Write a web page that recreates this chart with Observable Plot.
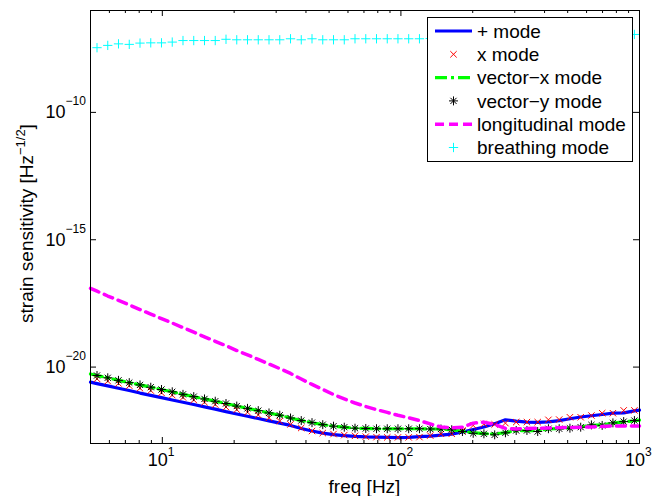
<!DOCTYPE html>
<html>
<head>
<meta charset="utf-8">
<script src="https://cdn.jsdelivr.net/npm/d3@7"></script>
<script src="https://cdn.jsdelivr.net/npm/@observablehq/plot@0.6"></script>
<style>
  body { margin: 0; background: #fff; }
  svg { font-family: "Liberation Sans", Arial, Helvetica, sans-serif; }
</style>
</head>
<body>
<div id="chart"></div>
<script>
// ---- data (strain values stored as log10) ----
const freq = [5.324, 5.906, 6.551, 7.268, 8.062, 8.944, 9.920, 11.005, 12.208, 13.543,
  15.024, 16.666, 18.489, 20.511, 22.754, 25.24, 28.00, 31.06, 34.46, 38.22,
  42.40, 47.04, 52.18, 57.89, 64.21, 71.24, 79.02, 87.66, 97.19, 107.8,
  119.6, 132.7, 147.2, 163.3, 181.1, 200.9, 222.8, 247.2, 274.2, 304.2,
  337.5, 374.4, 415.3, 460.7, 511.0, 566.9, 628.8, 697.6, 773.8, 858.4, 952.1];
const freqMin = 5, freqMax = 1000;

// lines: one value at freqMin, one per freq, one at freqMax
const plusLog = [-20.59, -20.65, -20.74, -20.83, -20.92, -21.02, -21.11, -21.20, -21.29, -21.38,
  -21.47, -21.56, -21.65, -21.75, -21.84, -21.93, -22.02, -22.11, -22.20, -22.29,
  -22.41, -22.51, -22.59, -22.65, -22.69, -22.72, -22.74, -22.75, -22.76, -22.77,
  -22.76, -22.73, -22.71, -22.67, -22.63, -22.55, -22.45, -22.35, -22.22, -22.07,
  -22.12, -22.16, -22.17, -22.15, -22.10, -22.03, -21.96, -21.91, -21.86, -21.81,
  -21.80, -21.72, -21.69];
const vecXLog = [-20.27, -20.33, -20.42, -20.52, -20.61, -20.70, -20.79, -20.88, -20.97, -21.07,
  -21.16, -21.25, -21.34, -21.43, -21.53, -21.62, -21.71, -21.80, -21.89, -22.00,
  -22.10, -22.18, -22.26, -22.32, -22.36, -22.40, -22.41, -22.42, -22.42, -22.42,
  -22.42, -22.42, -22.43, -22.43, -22.46, -22.52, -22.58, -22.61, -22.63, -22.57,
  -22.50, -22.50, -22.50, -22.43, -22.41, -22.39, -22.35, -22.29, -22.27, -22.20,
  -22.15, -22.11, -22.08];
const longLog = [-16.91, -17.02, -17.21, -17.38, -17.56, -17.74, -17.92, -18.10, -18.27, -18.45,
  -18.63, -18.81, -18.99, -19.16, -19.35, -19.52, -19.70, -19.88, -20.06, -20.25,
  -20.47, -20.68, -20.88, -21.08, -21.25, -21.41, -21.55, -21.67, -21.78, -21.89,
  -21.99, -22.10, -22.23, -22.35, -22.39, -22.36, -22.20, -22.16, -22.25, -22.41,
  -22.43, -22.41, -22.40, -22.39, -22.38, -22.37, -22.36, -22.35, -22.33, -22.31,
  -22.31, -22.31, -22.31];

// markers: one value per freq
const crossLog = [-20.46, -20.55, -20.64, -20.73, -20.83, -20.92, -21.01, -21.10, -21.19, -21.29,
  -21.38, -21.47, -21.57, -21.67, -21.77, -21.88, -21.99, -22.12, -22.25, -22.39,
  -22.51, -22.59, -22.63, -22.67, -22.70, -22.73, -22.75, -22.76, -22.76, -22.76,
  -22.75, -22.69, -22.62, -22.62, -22.49, -22.29, -22.23, -22.25, -22.20, -22.16,
  -22.16, -22.16, -22.07, -22.06, -21.97, -21.97, -21.90, -21.81, -21.81, -21.70,
  -21.70];
const vecYLog = [-20.33, -20.42, -20.52, -20.61, -20.70, -20.79, -20.88, -20.97, -21.07, -21.16,
  -21.25, -21.34, -21.43, -21.53, -21.62, -21.71, -21.80, -21.89, -22.00, -22.10,
  -22.18, -22.26, -22.32, -22.36, -22.40, -22.41, -22.42, -22.42, -22.42, -22.42,
  -22.42, -22.43, -22.43, -22.46, -22.53, -22.60, -22.62, -22.66, -22.58, -22.49,
  -22.49, -22.53, -22.42, -22.42, -22.40, -22.36, -22.27, -22.29, -22.19, -22.14,
  -22.10];
const breathLog = [-7.46, -7.37, -7.31, -7.33, -7.28, -7.27, -7.27, -7.24, -7.18, -7.18,
  -7.18, -7.18, -7.13, -7.15, -7.15, -7.15, -7.15, -7.15, -7.11, -7.15,
  -7.11, -7.15, -7.15, -7.15, -7.11, -7.11, -7.11, -7.11, -7.11, -7.11,
  -7.11, -7.10, -7.09, -7.08, -7.08, -7.07, -7.06, -7.06, -7.05, -7.04,
  -7.04, -7.03, -7.02, -7.01, -7.00, -7.00, -6.99, -6.98, -6.97, -6.96,
  -6.94];

const xTicks = [10, 100, 1000];
const xTickExp = ["1", "2", "3"];
const xMinorTicks = [6, 7, 8, 9, 20, 30, 40, 50, 60, 70, 80, 90, 200, 300, 400, 500, 600, 700, 800, 900];
const yTicks = [1e-20, 1e-15, 1e-10];
const yTickExp = ["\u221220", "\u221215", "\u221210"];
const legendLabels = ["+ mode", "x mode", "vector\u2212x mode", "vector\u2212y mode", "longitudinal mode", "breathing mode"];

// ---- build tables ----
const lineFreq = [freqMin, ...freq, freqMax];
const table = (fs, logs) => fs.map((f, i) => ({f, v: Math.pow(10, logs[i])}));
const plusData = table(lineFreq, plusLog);
const vecXData = table(lineFreq, vecXLog);
const longData = table(lineFreq, longLog);
const crossData = table(freq, crossLog);
const vecYData = table(freq, vecYLog);
const breathData = table(freq, breathLog);

const W = 666, H = 496, mL = 90, mR = 27, mT = 10, mB = 53;
const plotW = W - mL - mR, plotH = H - mT - mB;
const FONT = '"Liberation Sans", Arial, Helvetica, sans-serif';

const chart = Plot.plot({
  width: W, height: H,
  marginLeft: mL, marginRight: mR, marginTop: mT, marginBottom: mB,
  style: {background: "white", fontFamily: FONT},
  x: {type: "log", domain: [freqMin, freqMax], axis: null},
  y: {type: "log", domain: [1e-23, 1e-6], axis: null},
  marks: [
    Plot.line(plusData, {x: "f", y: "v", stroke: "#0000ff", strokeWidth: 3.2}),
    Plot.dot(crossData, {x: "f", y: "v", symbol: "times", r: 3.0, stroke: "#ff0000", strokeWidth: 1}),
    Plot.line(vecXData, {x: "f", y: "v", stroke: "#00ff00", strokeWidth: 3.2, strokeDasharray: "12,4,3,4"}),
    Plot.dot(vecYData, {x: "f", y: "v", symbol: "plus", r: 3.0, stroke: "#000000", strokeWidth: 1}),
    Plot.dot(vecYData, {x: "f", y: "v", symbol: "times", r: 2.9, stroke: "#000000", strokeWidth: 1}),
    Plot.line(longData, {x: "f", y: "v", stroke: "#ff00ff", strokeWidth: 3.5, strokeDasharray: "9,6"}),
    Plot.dot(breathData, {x: "f", y: "v", symbol: "plus", r: 3.1, stroke: "#00ffff", strokeWidth: 1}),
    // inward ticks (bottom/top, left/right)
    Plot.tickX(xMinorTicks, {x: d => d, insetTop: plotH - 3, stroke: "black"}),
    Plot.tickX(xMinorTicks, {x: d => d, insetBottom: plotH - 3, stroke: "black"}),
    Plot.tickX(xTicks, {x: d => d, insetTop: plotH - 6, stroke: "black"}),
    Plot.tickX(xTicks, {x: d => d, insetBottom: plotH - 6, stroke: "black"}),
    Plot.tickY(yTicks, {y: d => d, insetRight: plotW - 6, stroke: "black"}),
    Plot.tickY(yTicks, {y: d => d, insetLeft: plotW - 6, stroke: "black"}),
    Plot.frame({stroke: "black", strokeWidth: 1}),
    // tick labels: 10 with superscript exponent
    Plot.text(xTicks, {x: d => d, frameAnchor: "bottom", text: () => "10", textAnchor: "end", dx: 5.5, dy: 22, fontSize: 18, fill: "black", fontFamily: FONT}),
    Plot.text(xTicks, {x: d => d, frameAnchor: "bottom", text: (d, i) => xTickExp[i], textAnchor: "start", dx: 5.5, dy: 12, fontSize: 12, fill: "black", fontFamily: FONT}),
    Plot.text(yTicks, {y: d => d, frameAnchor: "left", text: () => "10", textAnchor: "end", dx: -25, dy: 0, fontSize: 18, fill: "black", fontFamily: FONT}),
    Plot.text(yTicks, {y: d => d, frameAnchor: "left", text: (d, i) => yTickExp[i], textAnchor: "start", dx: -25, dy: -11, fontSize: 12, fill: "black", fontFamily: FONT})
  ]
});
document.getElementById("chart").appendChild(chart);

// ---- axis labels and legend ----
const svg = d3.select(chart);
svg.append("text")
  .attr("x", mL + plotW / 2).attr("y", 493)
  .attr("text-anchor", "middle").attr("font-size", 19).attr("fill", "black")
  .attr("font-family", FONT).text("freq [Hz]");
const yl = svg.append("text")
  .attr("transform", `translate(33,${mT + plotH / 2 - 3}) rotate(-90)`)
  .attr("text-anchor", "middle").attr("font-size", 19).attr("fill", "black")
  .attr("font-family", FONT);
yl.append("tspan").text("strain sensitivity [Hz");
yl.append("tspan").attr("dy", -8).attr("font-size", 13).text("\u22121/2");
yl.append("tspan").attr("dy", 8).text("]");

const lg = svg.append("g").attr("font-family", FONT).attr("text-anchor", "start");
const lgX = 427.5, lgY = 17.5, lgW = 205, lgH = 144;
lg.append("rect").attr("x", lgX).attr("y", lgY).attr("width", lgW).attr("height", lgH)
  .attr("fill", "white").attr("stroke", "black").attr("stroke-width", 1);
const rowY = i => 31 + i * 23.3;
const sx0 = 435, sx1 = 472, sxm = (sx0 + sx1) / 2;
function legLine(i, color, dash, w) {
  lg.append("line").attr("x1", sx0).attr("x2", sx1).attr("y1", rowY(i)).attr("y2", rowY(i))
    .attr("stroke", color).attr("stroke-width", w || 3.2).attr("stroke-dasharray", dash || null);
}
function legSym(i, type, r, color) {
  lg.append("path").attr("d", d3.symbol(type, r * r * Math.PI)())
    .attr("transform", `translate(${sxm},${rowY(i)})`)
    .attr("fill", "none").attr("stroke", color).attr("stroke-width", 1);
}
legLine(0, "#0000ff");
legSym(1, d3.symbolTimes, 3.0, "#ff0000");
legLine(2, "#00ff00", "12,4,3,4");
legSym(3, d3.symbolPlus, 3.0, "#000000");
legSym(3, d3.symbolTimes, 2.9, "#000000");
legLine(4, "#ff00ff", "9,5", 3.5);
legSym(5, d3.symbolPlus, 3.1, "#00ffff");
legendLabels.forEach((t, i) => {
  lg.append("text").attr("x", 477).attr("y", rowY(i)).attr("dy", "0.35em")
    .attr("text-anchor", "start")
    .attr("font-size", 19).attr("fill", "black").text(t);
});
</script>
</body>
</html>
